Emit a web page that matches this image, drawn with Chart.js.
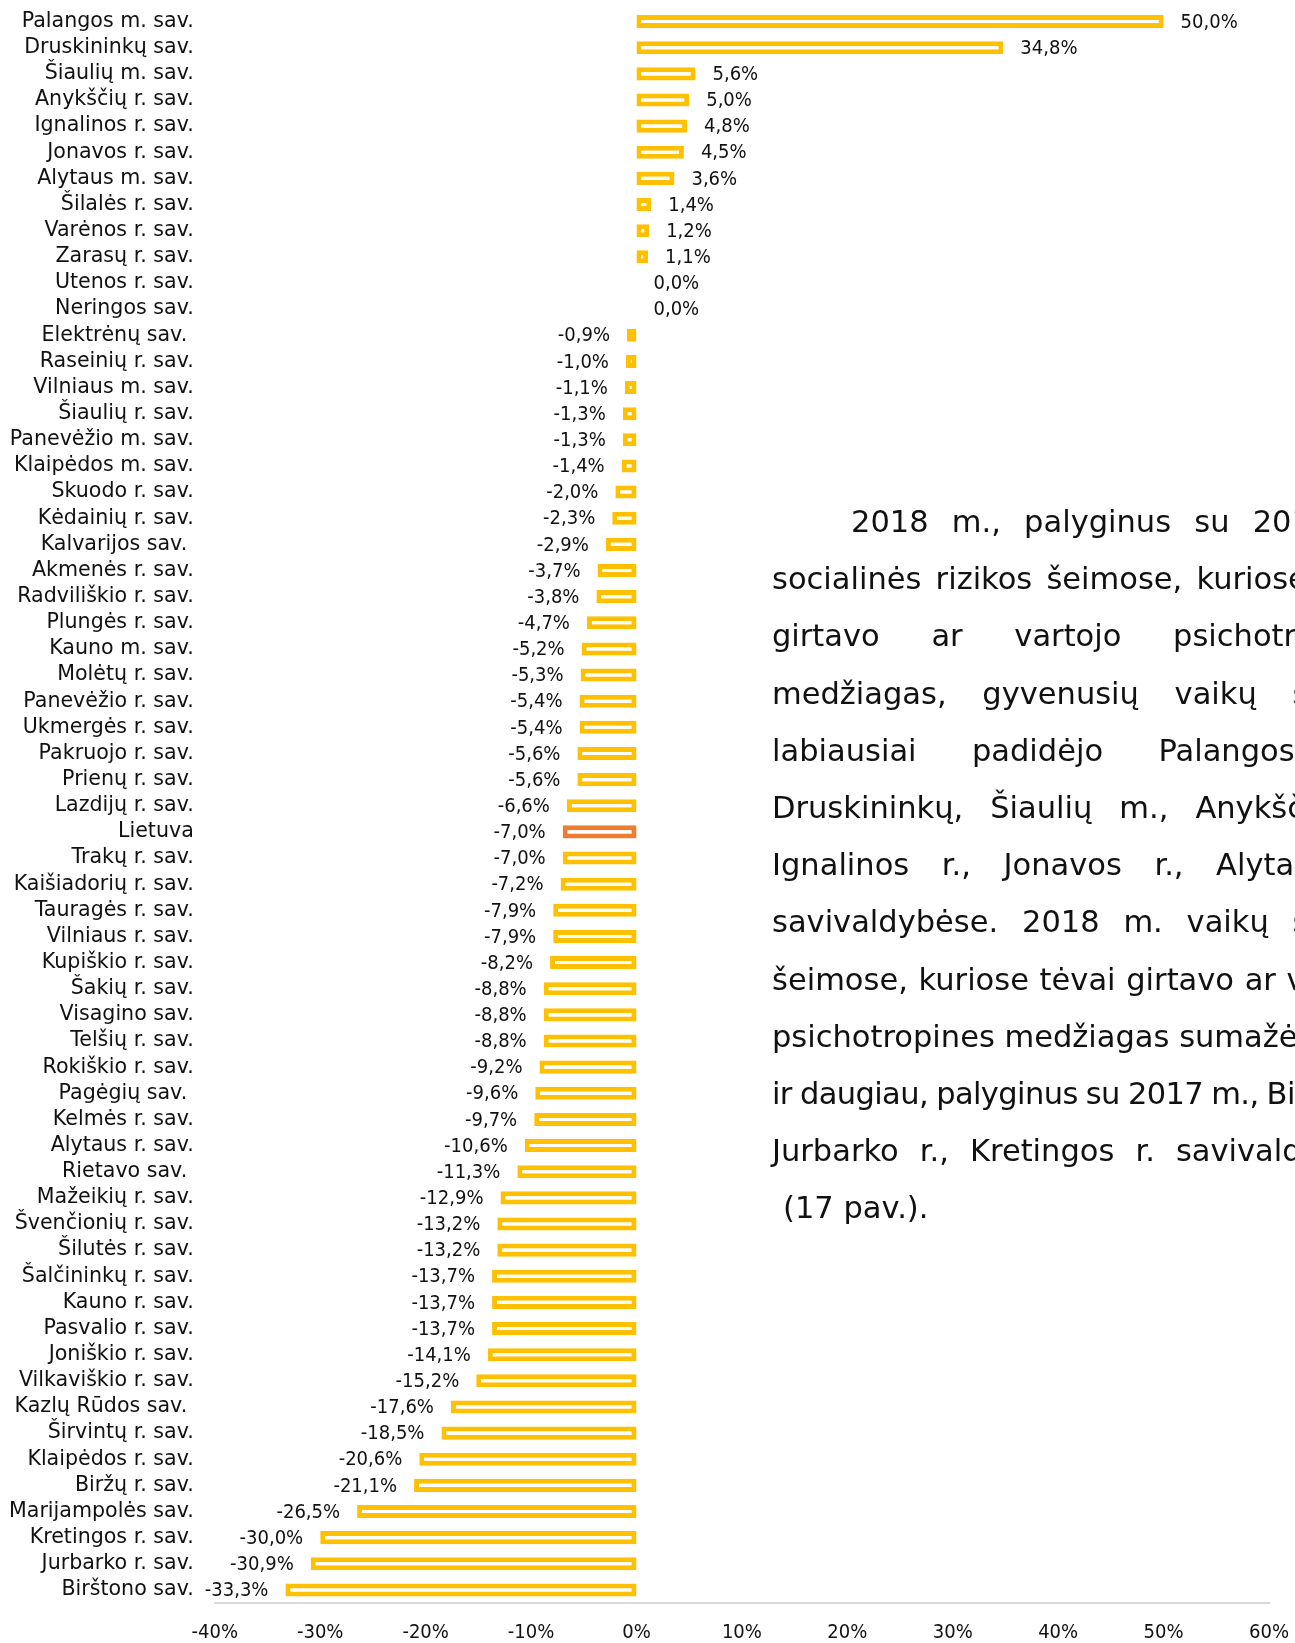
<!DOCTYPE html>
<html>
<head>
<meta charset="utf-8">
<script src="https://cdn.jsdelivr.net/npm/chart.js@4.4.0/dist/chart.umd.min.js"></script>
<style>
html, body { margin: 0; padding: 0; background: #fff; overflow: hidden; }
#wrap { position: relative; width: 1295px; height: 1643px; overflow: hidden; }
#note { position: absolute; left: 772px; top: 493px; font-family: 'DejaVu Sans', sans-serif; font-size: 30.5px; line-height: 57.2px; color: #111; white-space: nowrap; }
</style>
</head>
<body>
<div id="wrap">
  <canvas id="myChart" width="1295" height="1643"></canvas>
  <div id="note"></div>
</div>
<script>
// savivaldybės, 2018 m. pokytis lyginant su 2017 m.
var categories = [
    'Palangos m. sav.', 'Druskininkų sav.', 'Šiaulių m. sav.', 'Anykščių r. sav.', 'Ignalinos r. sav.',
    'Jonavos r. sav.', 'Alytaus m. sav.', 'Šilalės r. sav.', 'Varėnos r. sav.', 'Zarasų r. sav.',
    'Utenos r. sav.', 'Neringos sav.', 'Elektrėnų sav. ', 'Raseinių r. sav.', 'Vilniaus m. sav.',
    'Šiaulių r. sav.', 'Panevėžio m. sav.', 'Klaipėdos m. sav.', 'Skuodo r. sav.', 'Kėdainių r. sav.',
    'Kalvarijos sav. ', 'Akmenės r. sav.', 'Radviliškio r. sav.', 'Plungės r. sav.', 'Kauno m. sav.',
    'Molėtų r. sav.', 'Panevėžio r. sav.', 'Ukmergės r. sav.', 'Pakruojo r. sav.', 'Prienų r. sav.',
    'Lazdijų r. sav.', 'Lietuva', 'Trakų r. sav.', 'Kaišiadorių r. sav.', 'Tauragės r. sav.',
    'Vilniaus r. sav.', 'Kupiškio r. sav.', 'Šakių r. sav.', 'Visagino sav.', 'Telšių r. sav.',
    'Rokiškio r. sav.', 'Pagėgių sav. ', 'Kelmės r. sav.', 'Alytaus r. sav.', 'Rietavo sav. ',
    'Mažeikių r. sav.', 'Švenčionių r. sav.', 'Šilutės r. sav.', 'Šalčininkų r. sav.', 'Kauno r. sav.',
    'Pasvalio r. sav.', 'Joniškio r. sav.', 'Vilkaviškio r. sav.', 'Kazlų Rūdos sav. ', 'Širvintų r. sav.',
    'Klaipėdos r. sav.', 'Biržų r. sav.', 'Marijampolės sav.', 'Kretingos r. sav.', 'Jurbarko r. sav.',
    'Birštono sav.'
];
var values = [
    50.0, 34.8, 5.6, 5.0, 4.8, 4.5, 3.6, 1.4, 1.2, 1.1,
    0.0, 0.0, -0.9, -1.0, -1.1, -1.3, -1.3, -1.4, -2.0, -2.3,
    -2.9, -3.7, -3.8, -4.7, -5.2, -5.3, -5.4, -5.4, -5.6, -5.6,
    -6.6, -7.0, -7.0, -7.2, -7.9, -7.9, -8.2, -8.8, -8.8, -8.8,
    -9.2, -9.6, -9.7, -10.6, -11.3, -12.9, -13.2, -13.2, -13.7, -13.7,
    -13.7, -14.1, -15.2, -17.6, -18.5, -20.6, -21.1, -26.5, -30.0, -30.9,
    -33.3
];
var tickLabels = ['-40%', '-30%', '-20%', '-10%', '0%', '10%', '20%', '30%', '40%', '50%', '60%'];

var noteLines = [
    '2018 m., palyginus su 2017 m.,',
    'socialinės rizikos šeimose, kuriose tėvai',
    'girtavo ar vartojo psichotropines',
    'medžiagas, gyvenusių vaikų skaičius',
    'labiausiai padidėjo Palangos m.,',
    'Druskininkų, Šiaulių m., Anykščių r.,',
    'Ignalinos r., Jonavos r., Alytaus m.',
    'savivaldybėse. 2018 m. vaikų skaičius',
    'šeimose, kuriose tėvai girtavo ar vartojo',
    'psichotropines medžiagas sumažėjo 30 proc.',
    'ir daugiau, palyginus su 2017 m., Birštono,',
    'Jurbarko r., Kretingos r. savivaldybėse',
    '(17 pav.).'
];
var noteSpacing = [13.5, 4.5, 42, 26, 45.7, 17.3, 22.9, 14.1, 1, 0, -1, 11.4, 0];
var noteLetters = [0, 0, 0, 0, 0, 0, 0, 0, 0, 0, -0.6, 0, 0];
var noteIndent = [79, 0, 0, 0, 0, 0, 0, 0, 0, 0, 0, 0, 11];

var note = document.getElementById('note');
noteLines.forEach(function (t, i) {
    var d = document.createElement('div');
    d.textContent = t;
    d.style.wordSpacing = noteSpacing[i] + 'px';
    d.style.letterSpacing = noteLetters[i] + 'px';
    d.style.paddingLeft = noteIndent[i] + 'px';
    note.appendChild(d);
});

var yellow = '#FFC000';
var orange = '#ED7D31';
var barColors = categories.map(function (c) { return c === 'Lietuva' ? orange : yellow; });

var valueLabels = {
    id: 'valueLabels',
    afterDatasetsDraw: function (chart) {
        var ctx = chart.ctx;
        var meta = chart.getDatasetMeta(0);
        ctx.save();
        ctx.font = '20px "DejaVu Sans Condensed", "Liberation Sans Narrow", sans-serif';
        ctx.fillStyle = '#111';
        ctx.textBaseline = 'middle';
        meta.data.forEach(function (bar, i) {
            var v = values[i];
            var txt = v.toFixed(1).replace('.', ',') + '%';
            if (v >= 0) {
                ctx.textAlign = 'left';
                ctx.fillText(txt, bar.x + 17, bar.y + 1);
            } else {
                ctx.textAlign = 'right';
                ctx.fillText(txt, bar.x - 17, bar.y + 1);
            }
        });
        ctx.restore();
    }
};

var ctx = document.getElementById('myChart').getContext('2d');
var myChart = new Chart(ctx, {
    type: 'bar',
    data: {
        labels: categories,
        datasets: [{
            data: values,
            backgroundColor: '#ffffff',
            borderColor: barColors,
            borderWidth: 5,
            borderSkipped: false,
            barPercentage: 0.5,
            categoryPercentage: 1.0
        }]
    },
    options: {
        indexAxis: 'y',
        responsive: false,
        animation: false,
        layout: { padding: { top: 8.5, right: 26, left: 0, bottom: 0 } },
        plugins: {
            legend: { display: false },
            tooltip: { enabled: false }
        },
        scales: {
            x: {
                min: -40,
                max: 60,
                ticks: {
                    stepSize: 10,
                    padding: 18,
                    maxRotation: 0,
                    color: '#111',
                    font: { family: '"DejaVu Sans Condensed", "Liberation Sans Narrow", sans-serif', size: 20 },
                    callback: function (v, i) { return tickLabels[i]; }
                },
                grid: { display: false, drawTicks: false },
                border: { display: true, color: '#D9D9D9', width: 2 },
                afterFit: function (scale) {
                    scale.height = 40;
                    scale.paddingLeft = 0;
                    scale.paddingRight = 0;
                }
            },
            y: {
                ticks: {
                    padding: 21,
                    autoSkip: false,
                    color: '#111',
                    font: { family: '"DejaVu Sans", sans-serif', size: 20.6 }
                },
                grid: { display: false, drawTicks: false },
                border: { display: false },
                afterFit: function (scale) {
                    scale.width = 214.8;
                    scale.paddingTop = 0;
                    scale.paddingBottom = 0;
                }
            }
        }
    },
    plugins: [valueLabels]
});
</script>
</body>
</html>
